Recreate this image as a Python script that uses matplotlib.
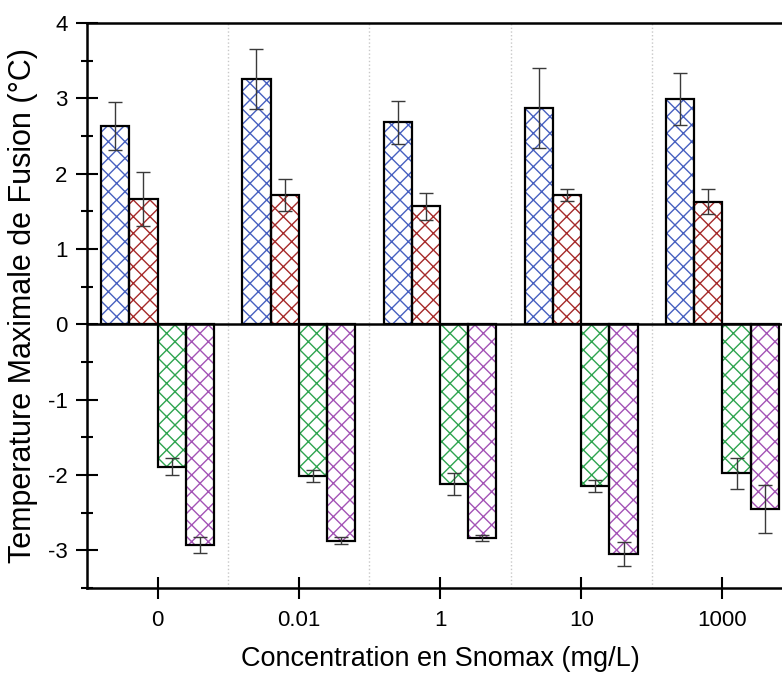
import matplotlib
matplotlib.use("Agg")
import matplotlib.pyplot as plt
import numpy as np

plt.rcParams['font.family'] = ['Liberation Sans', 'DejaVu Sans']
plt.rcParams['hatch.linewidth'] = 1.0

# concentrations (tick labels)
concentrations = ["0", "0.01", "1", "10", "1000"]

# four series per concentration (two above zero, two below zero)
blue_vals = [2.63, 3.26, 2.68, 2.87, 2.99]
blue_err = [0.32, 0.40, 0.28, 0.53, 0.34]
red_vals = [1.66, 1.72, 1.57, 1.72, 1.63]
red_err = [0.36, 0.21, 0.18, 0.08, 0.17]
green_vals = [-1.89, -2.01, -2.12, -2.14, -1.98]
green_err = [0.11, 0.08, 0.15, 0.08, 0.20]
purple_vals = [-2.93, -2.87, -2.83, -3.05, -2.45]
purple_err = [0.11, 0.05, 0.04, 0.155, 0.32]

series = [
    (blue_vals, blue_err, "#4760c0"),
    (red_vals, red_err, "#a52a2a"),
    (green_vals, green_err, "#2ea44f"),
    (purple_vals, purple_err, "#a353b5"),
]

fig = plt.figure(figsize=(7.82, 6.75), dpi=100)
ax = fig.add_axes([87 / 782, 87 / 675, (793 - 87) / 782, (588 - 23) / 675])

x = np.arange(len(concentrations))
width = 0.2
offsets = [-0.3, -0.1, 0.1, 0.3]

for (vals, err, col), off in zip(series, offsets):
    # hatched fill in series colour, then black outline on top
    ax.bar(x + off, vals, width, color="white", edgecolor=col, hatch="xx",
           linewidth=0, zorder=2)
    ax.bar(x + off, vals, width, fill=False, edgecolor="black",
           linewidth=1.6, zorder=3)
    ax.errorbar(x + off, vals, yerr=err, fmt="none", ecolor="#3a3a3a",
                elinewidth=1.0, capsize=5, capthick=1.0, zorder=4)

ax.axhline(0, color="black", linewidth=1.8, zorder=5)

ax.set_xlim(-0.5, 4.5)
ax.set_ylim(-3.5, 4)
ax.set_xticks(x)
ax.set_xticklabels(concentrations)
ax.set_xticks(x[:-1] + 0.5, minor=True)
ax.set_yticks(np.arange(-3, 5, 1))
ax.set_yticks(np.arange(-3.5, 4.01, 0.5), minor=True)
ax.set_yticklabels([str(v) for v in range(-3, 5)])

ax.grid(True, axis="x", which="minor", linestyle=":", color="#c8c8c8",
        linewidth=1.0, zorder=0)
ax.set_axisbelow(True)

ax.tick_params(axis="y", which="major", direction="inout", length=16,
               width=1.5, labelsize=16, pad=6)
ax.tick_params(axis="y", which="minor", direction="inout", length=9,
               width=1.5)
ax.tick_params(axis="x", which="major", direction="inout", length=16,
               width=1.5, labelsize=16, pad=8)
ax.tick_params(axis="x", which="minor", length=0)

for side in ("left", "bottom", "top"):
    ax.spines[side].set_linewidth(1.8)
ax.spines["right"].set_visible(False)

ax.set_xlabel("Concentration en Snomax (mg/L)", fontsize=19.5, labelpad=11)
ax.set_ylabel("Temperature Maximale de Fusion (°C)", fontsize=22, labelpad=7)

fig.savefig("out.png", dpi=100)
